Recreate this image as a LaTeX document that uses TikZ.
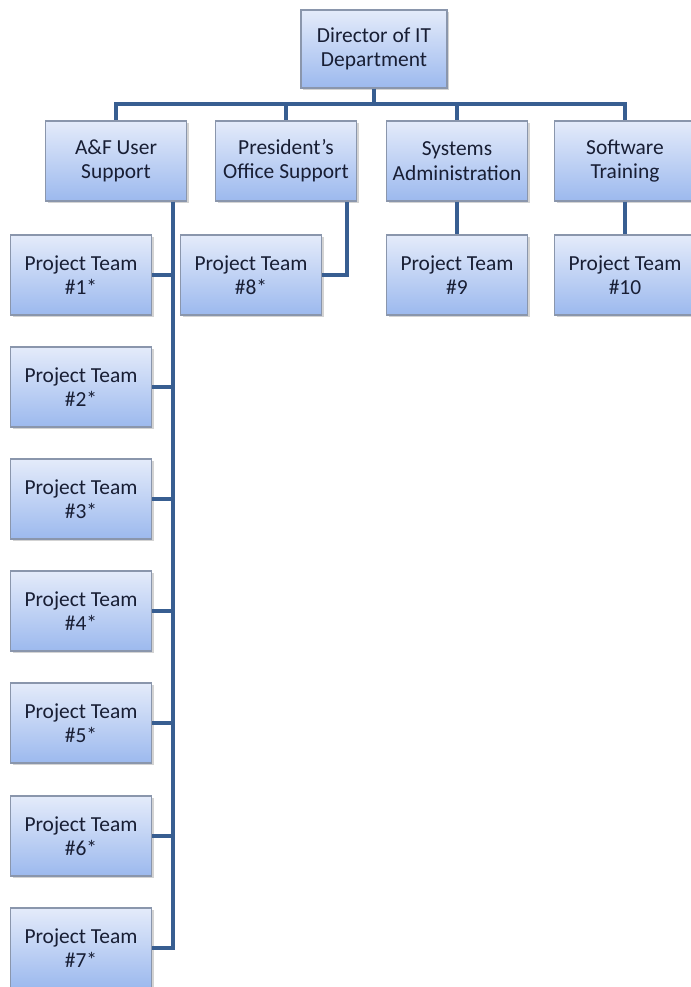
\documentclass[tikz,border=0pt]{standalone}
\usepackage{fontspec}
\setmainfont{Carlito}
\usepackage{tikz}
\usetikzlibrary{calc,shadows}
\definecolor{boxtop}{RGB}{228,235,250}
\definecolor{boxbot}{RGB}{156,185,238}
\definecolor{boxline}{RGB}{138,150,172}
\definecolor{linkblue}{RGB}{56,94,145}
\definecolor{textnavy}{RGB}{24,30,52}

\begin{document}
\begin{tikzpicture}[x=0.02cm,y=-0.02cm,
  unit/.style={draw=boxline, line width=0.7pt, top color=boxtop, bottom color=boxbot,
    minimum width=2.82cm, minimum height=1.6cm, align=center, text=textnavy,
    font=\fontsize{12.2}{13.8}\selectfont,
    drop shadow={opacity=0.35, shadow xshift=1.2pt, shadow yshift=-1.2pt}},
  link/.style={draw=linkblue, line width=2.7pt}]
% page is 690 x 987 px, y grows downwards
\useasboundingbox (0,0) rectangle (690,987);
\node[unit, minimum width=2.92cm, minimum height=1.56cm] (dir) at (374,49) {Director of IT\\Department};
% second row
\node[unit] (af)   at (116,161) {A\&F User\\Support};
\node[unit] (pres) at (286,161) {President's\\Office Support};
\node[unit] (sys)  at (457,161) {Systems\\Administration};
\node[unit] (sw)   at (625,161) {Software\\Training};
% project teams
\node[unit] (pt1)  at (81,275) {Project Team\\\#1*};
\node[unit] (pt2)  at (81,387) {Project Team\\\#2*};
\node[unit] (pt3)  at (81,499) {Project Team\\\#3*};
\node[unit] (pt4)  at (81,611) {Project Team\\\#4*};
\node[unit] (pt5)  at (81,723) {Project Team\\\#5*};
\node[unit] (pt6)  at (81,836) {Project Team\\\#6*};
\node[unit] (pt7)  at (81,948) {Project Team\\\#7*};
\node[unit] (pt8)  at (251,275) {Project Team\\\#8*};
\node[unit] (pt9)  at (457,275) {Project Team\\\#9};
\node[unit] (pt10) at (625,275) {Project Team\\\#10};

\coordinate (bus) at (374,104);
\coordinate (spine) at (173,0);
\draw[link] (dir.south) -- (bus);
\draw[link] (bus) -| (af.north);
\draw[link] (bus) -| (pres.north);
\draw[link] (bus) -| (sys.north);
\draw[link] (bus) -| (sw.north);
% A&F spine
\draw[link] (af.south -| spine) |- (pt7.east);
\draw[link] (pt1.east) -- (pt1.east -| spine);
\draw[link] (pt2.east) -- (pt2.east -| spine);
\draw[link] (pt3.east) -- (pt3.east -| spine);
\draw[link] (pt4.east) -- (pt4.east -| spine);
\draw[link] (pt5.east) -- (pt5.east -| spine);
\draw[link] (pt6.east) -- (pt6.east -| spine);
\draw[link] (pt8.east) -| ($(pres.south east)+(-10,0)$);
\draw[link] (sys.south) -- (pt9.north);
\draw[link] (sw.south) -- (pt10.north);
\end{tikzpicture}
\end{document}
